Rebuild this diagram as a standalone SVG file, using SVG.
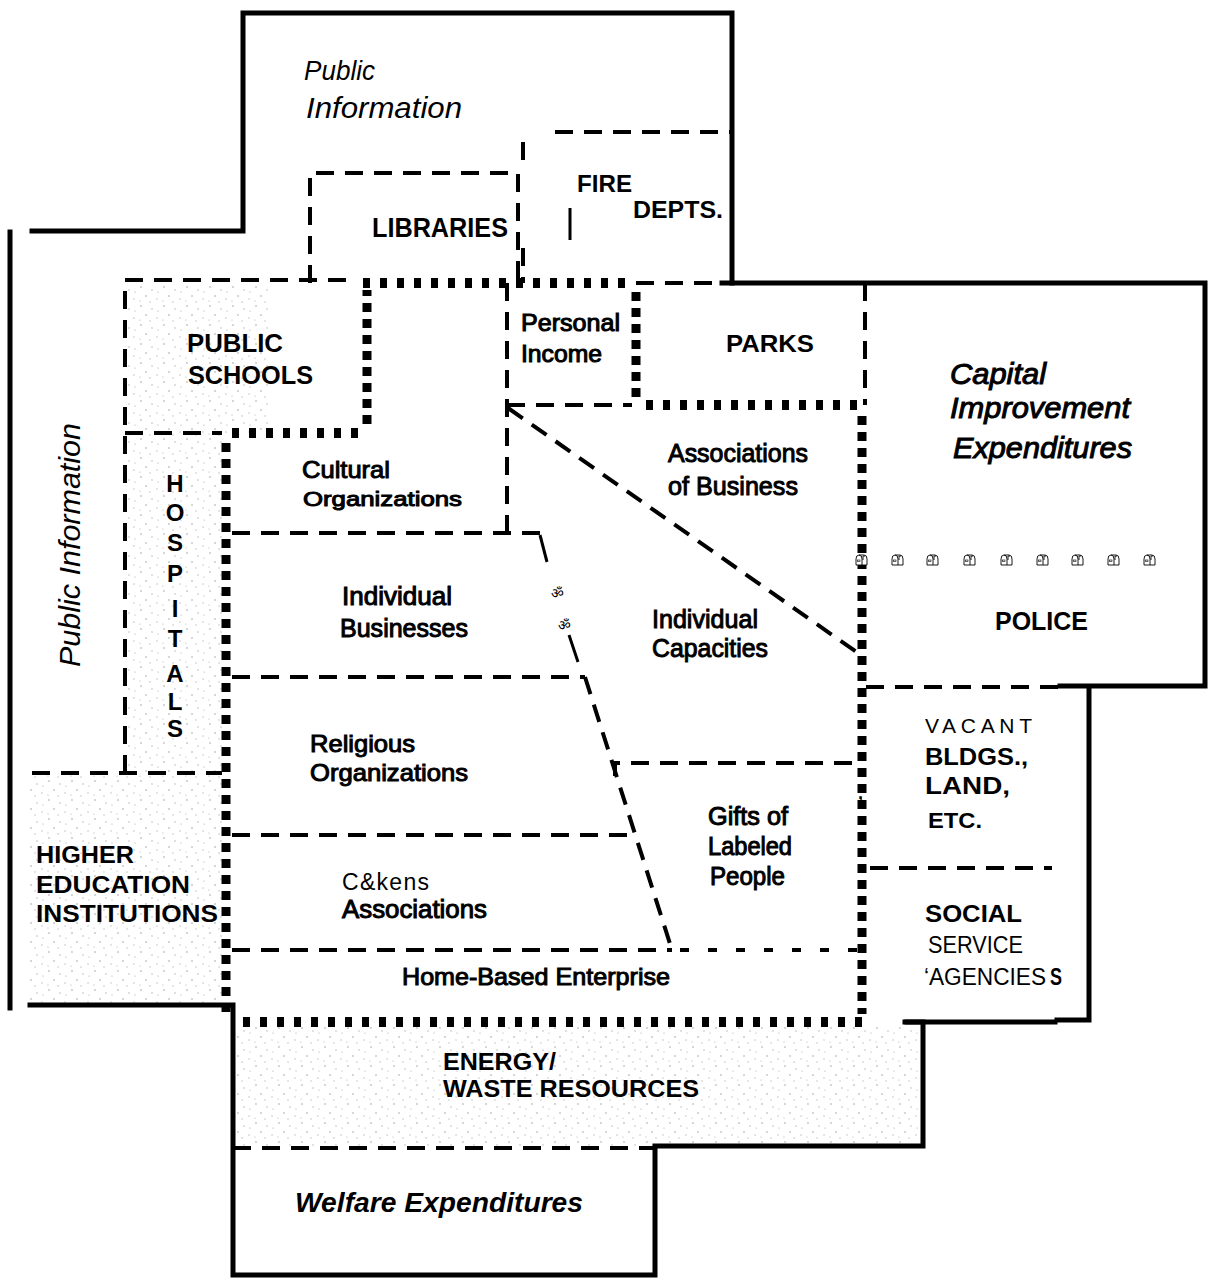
<svg xmlns="http://www.w3.org/2000/svg" xmlns:xlink="http://www.w3.org/1999/xlink" width="1209" height="1279" viewBox="0 0 1209 1279">
<defs>
<style>
.t{font-family:"Liberation Sans",Arial,"DejaVu Sans",sans-serif;fill:#000}
.b{font-weight:bold}
.m{stroke:#000;stroke-width:1}
.i{font-style:italic}
.solid{fill:none;stroke:#000;stroke-width:5;stroke-linecap:square}
.dash{fill:none;stroke:#000;stroke-width:4;stroke-dasharray:18 11}
.sdash{fill:none;stroke:#000;stroke-width:4;stroke-dasharray:9 19}
.doth{fill:none;stroke:#000;stroke-width:10;stroke-dasharray:7 10}
.dotv{fill:none;stroke:#000;stroke-width:9;stroke-dasharray:9 7}
.thin{fill:none;stroke:#000;stroke-width:3}
.stip{fill:url(#stipple)}
</style>
<pattern id="stipple" width="23" height="19" patternUnits="userSpaceOnUse">
<circle cx="3" cy="2" r="0.8" fill="#666"/>
<circle cx="14" cy="5" r="0.7" fill="#777"/>
<circle cx="8" cy="11" r="0.8" fill="#666"/>
<circle cx="19" cy="14" r="0.7" fill="#888"/>
<circle cx="2" cy="16" r="0.6" fill="#777"/>
<circle cx="12" cy="17" r="0.7" fill="#888"/>
<circle cx="20" cy="7" r="0.6" fill="#666"/>
</pattern>
<symbol id="mb" viewBox="0 0 13 12" width="13" height="12">
<path d="M1,11 V5 Q1,1 4,1 H9 Q12,1 12,5 V11 Z M4,1 Q7,1 7,5 V11 M8,6 V2 H10" fill="#fff" stroke="#000" stroke-width="0.9"/>
<rect x="2.5" y="6" width="2.5" height="1.6" fill="none" stroke="#000" stroke-width="0.6"/>
</symbol>
</defs>
<rect width="1209" height="1279" fill="#fff"/>

<g id="stippling" opacity="0.6">
<rect class="stip" x="128" y="284" width="140" height="149"/>
<rect class="stip" x="128" y="433" width="97" height="340"/>
<rect class="stip" x="30" y="775" width="195" height="230"/>
<rect class="stip" x="235" y="1027" width="688" height="119"/>
</g>

<g id="connectors">
<path class="solid" d="M32,231 H243 V13 H732 V283"/>
<path class="solid" d="M722,283 H1205 V686 H1060"/>
<path class="solid" d="M1089,688 V1020 H1057"/>
<path class="solid" d="M905,1022 H923 V1146 H655"/>
<path class="solid" d="M655,1148 V1275 H233 V1005 H30"/>
<path class="solid" d="M10,232 V1008"/>
<path class="solid" d="M1055,1022 H907" stroke-width="4"/>
<path class="doth" d="M363,283 H632"/>
<path class="dotv" d="M636,292 V402"/>
<path class="doth" d="M646,405 H862"/>
<path class="dotv" d="M862,416 V1014"/>
<path class="doth" d="M862,1022 H236"/>
<path class="dotv" d="M226,1012 V436"/>
<path class="doth" d="M232,433 H367"/>
<path class="dotv" d="M367,424 V290"/>
<path class="dash" d="M523,160 V132 M555,132 H732"/>
<path class="thin" d="M570,208 V240"/>
<path class="dash" d="M310,283 V173 H518 V283"/>
<path class="dash" d="M523,248 V283"/>
<path class="dash" d="M636,283 H720"/>
<path class="dash" d="M125,773 V280 H356"/>
<path class="dash" d="M125,433 H222"/>
<path class="dash" d="M32,773 H222"/>
<path class="dash" d="M507,283 V533"/>
<path class="dash" d="M507,405 H632"/>
<path class="dash" d="M865,283 V405"/>
<path class="dash" d="M232,533 H540"/>
<path class="thin" d="M540,535 L547,562"/>
<path class="thin" d="M569,635 L576,656 L578,662"/>
<path class="dash" d="M585,677 L672,950"/>
<path class="dash" d="M232,677 H585"/>
<path class="dash" d="M508,408 L858,653"/>
<path class="dash" d="M615,776 V763 H857"/>
<path class="dash" d="M232,835 H628"/>
<path class="dash" d="M232,950 H672"/>
<path class="sdash" d="M680,950 H857"/>
<path class="dash" d="M866,687 H1058"/>
<path class="dash" d="M870,868 H1052"/>
<path class="dash" d="M233,1148 H655"/>
<text class="t" x="551" y="598" font-size="14">ॐ</text>
<text class="t" x="558" y="630" font-size="14">ॐ</text>
<text class="t b" x="858" y="799" font-size="18">,</text>
<use xlink:href="#mb" x="855" y="554"/>
<use xlink:href="#mb" x="891" y="554"/>
<use xlink:href="#mb" x="926" y="554"/>
<use xlink:href="#mb" x="963" y="554"/>
<use xlink:href="#mb" x="1000" y="554"/>
<use xlink:href="#mb" x="1036" y="554"/>
<use xlink:href="#mb" x="1071" y="554"/>
<use xlink:href="#mb" x="1107" y="554"/>
<use xlink:href="#mb" x="1143" y="554"/>
</g>

<g id="public-information-top">
<text class="t i" x="304" y="80" font-size="27" textLength="71" lengthAdjust="spacingAndGlyphs">Public</text>
<text class="t i" x="306" y="118" font-size="29" textLength="156" lengthAdjust="spacingAndGlyphs">Information</text>
</g>
<g id="public-information-left">
<text class="t i" transform="translate(80,667) rotate(-90)" font-size="30" textLength="244" lengthAdjust="spacingAndGlyphs">Public Information</text>
</g>
<g id="libraries">
<text class="t b" x="372" y="237" font-size="27" textLength="136" lengthAdjust="spacingAndGlyphs">LIBRARIES</text>
</g>
<g id="fire-depts">
<text class="t b" x="577" y="192" font-size="24" textLength="55" lengthAdjust="spacingAndGlyphs">FIRE</text>
<text class="t b" x="633" y="218" font-size="24" textLength="90" lengthAdjust="spacingAndGlyphs">DEPTS.</text>
</g>
<g id="public-schools">
<text class="t b" x="187" y="352" font-size="26" textLength="96" lengthAdjust="spacingAndGlyphs">PUBLIC</text>
<text class="t b" x="188" y="384" font-size="26" textLength="125" lengthAdjust="spacingAndGlyphs">SCHOOLS</text>
</g>
<g id="personal-income">
<text class="t m" x="521" y="331" font-size="23" textLength="99" lengthAdjust="spacingAndGlyphs">Personal</text>
<text class="t m" x="521" y="362" font-size="23" textLength="81" lengthAdjust="spacingAndGlyphs">Income</text>
</g>
<g id="parks">
<text class="t b" x="726" y="352" font-size="24" textLength="88" lengthAdjust="spacingAndGlyphs">PARKS</text>
</g>
<g id="capital-improvement">
<text class="t i m" x="950" y="384" font-size="30" textLength="96" lengthAdjust="spacingAndGlyphs">Capital</text>
<text class="t i m" x="950" y="418" font-size="30" textLength="180" lengthAdjust="spacingAndGlyphs">Improvement</text>
<text class="t i m" x="953" y="458" font-size="30" textLength="179" lengthAdjust="spacingAndGlyphs">Expenditures</text>
</g>
<g id="hospitals" class="t b" font-size="24" text-anchor="middle">
<text x="175" y="492">H</text>
<text x="175" y="521">O</text>
<text x="175" y="551">S</text>
<text x="175" y="582">P</text>
<text x="175" y="617">I</text>
<text x="175" y="647">T</text>
<text x="175" y="682">A</text>
<text x="175" y="710">L</text>
<text x="175" y="737">S</text>
</g>
<g id="cultural-organizations">
<text class="t m" x="302" y="478" font-size="24" textLength="88" lengthAdjust="spacingAndGlyphs">Cultural</text>
<text class="t m" x="303" y="506" font-size="21" textLength="159" lengthAdjust="spacingAndGlyphs">Organizations</text>
</g>
<g id="associations-of-business">
<text class="t m" x="668" y="462" font-size="26" textLength="140" lengthAdjust="spacingAndGlyphs">Associations</text>
<text class="t m" x="668" y="495" font-size="26" textLength="130" lengthAdjust="spacingAndGlyphs">of Business</text>
</g>
<g id="individual-businesses">
<text class="t m" x="342" y="605" font-size="25" textLength="110" lengthAdjust="spacingAndGlyphs">Individual</text>
<text class="t m" x="340" y="637" font-size="25" textLength="128" lengthAdjust="spacingAndGlyphs">Businesses</text>
</g>
<g id="individual-capacities">
<text class="t m" x="652" y="628" font-size="26" textLength="106" lengthAdjust="spacingAndGlyphs">Individual</text>
<text class="t m" x="652" y="657" font-size="26" textLength="116" lengthAdjust="spacingAndGlyphs">Capacities</text>
</g>
<g id="police">
<text class="t b" x="995" y="630" font-size="26" textLength="93" lengthAdjust="spacingAndGlyphs">POLICE</text>
</g>
<g id="religious-organizations">
<text class="t m" x="310" y="752" font-size="24" textLength="105" lengthAdjust="spacingAndGlyphs">Religious</text>
<text class="t m" x="310" y="781" font-size="24" textLength="158" lengthAdjust="spacingAndGlyphs">Organizations</text>
</g>
<g id="gifts-of-labeled-people">
<text class="t m" x="708" y="825" font-size="25" textLength="80" lengthAdjust="spacingAndGlyphs">Gifts of</text>
<text class="t m" x="708" y="855" font-size="25" textLength="84" lengthAdjust="spacingAndGlyphs">Labeled</text>
<text class="t m" x="710" y="885" font-size="25" textLength="75" lengthAdjust="spacingAndGlyphs">People</text>
</g>
<g id="vacant-bldgs">
<text class="t" x="925" y="733" font-size="21" textLength="107" lengthAdjust="spacing">VACANT</text>
<text class="t b" x="925" y="765" font-size="24" textLength="103" lengthAdjust="spacingAndGlyphs">BLDGS.,</text>
<text class="t b" x="925" y="794" font-size="24" textLength="85" lengthAdjust="spacingAndGlyphs">LAND,</text>
<text class="t b" x="928" y="828" font-size="22" textLength="54" lengthAdjust="spacingAndGlyphs">ETC.</text>
</g>
<g id="higher-education">
<text class="t b" x="36" y="863" font-size="24" textLength="98" lengthAdjust="spacingAndGlyphs">HIGHER</text>
<text class="t b" x="36" y="893" font-size="24" textLength="154" lengthAdjust="spacingAndGlyphs">EDUCATION</text>
<text class="t b" x="36" y="922" font-size="24" textLength="182" lengthAdjust="spacingAndGlyphs">INSTITUTIONS</text>
</g>
<g id="citizens-associations">
<text class="t" x="342" y="890" font-size="23" textLength="87" lengthAdjust="spacing">C&amp;kens</text>
<text class="t m" x="342" y="918" font-size="25" textLength="145" lengthAdjust="spacingAndGlyphs">Associations</text>
</g>
<g id="social-service-agencies">
<text class="t b" x="925" y="922" font-size="23" textLength="97" lengthAdjust="spacingAndGlyphs">SOCIAL</text>
<text class="t" x="928" y="953" font-size="23" textLength="95" lengthAdjust="spacingAndGlyphs">SERVICE</text>
<text class="t" x="924" y="985" font-size="23" textLength="122" lengthAdjust="spacingAndGlyphs">‘AGENCIES</text>
<text class="t b" x="1050" y="985" font-size="23" textLength="12" lengthAdjust="spacingAndGlyphs">S</text>
</g>
<g id="home-based-enterprise">
<text class="t m" x="402" y="985" font-size="24" textLength="268" lengthAdjust="spacingAndGlyphs">Home-Based Enterprise</text>
</g>
<g id="energy-waste">
<text class="t b" x="443" y="1070" font-size="24" textLength="113" lengthAdjust="spacingAndGlyphs">ENERGY/</text>
<text class="t b" x="443" y="1097" font-size="24" textLength="256" lengthAdjust="spacingAndGlyphs">WASTE RESOURCES</text>
</g>
<g id="welfare-expenditures">
<text class="t i b" x="295" y="1212" font-size="28" textLength="288" lengthAdjust="spacingAndGlyphs">Welfare Expenditures</text>
</g>
</svg>
